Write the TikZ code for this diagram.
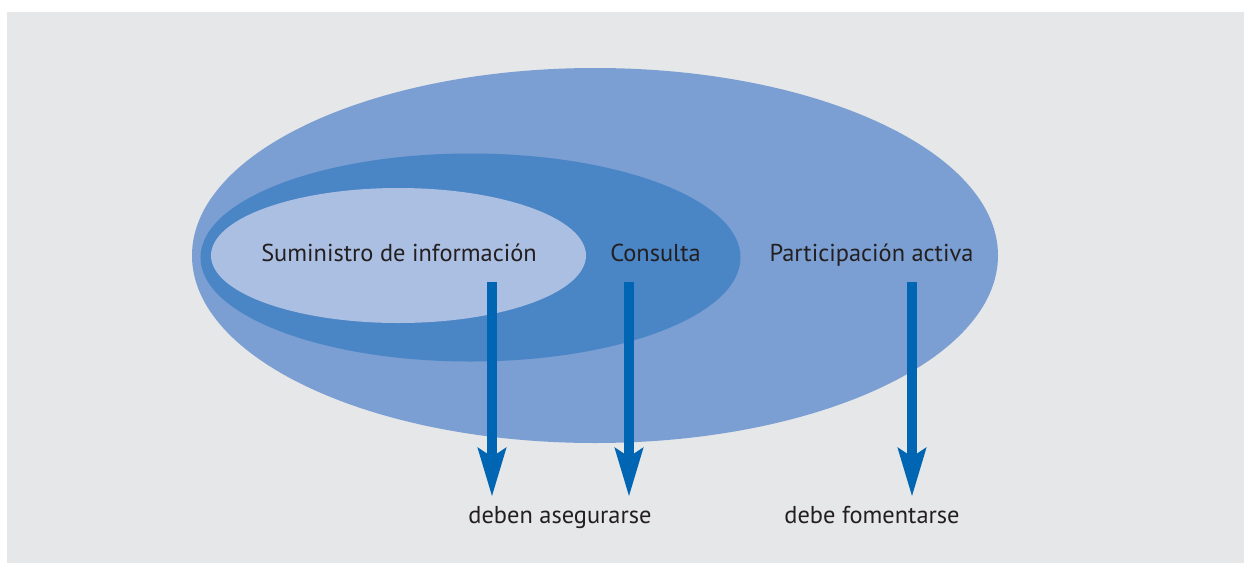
\documentclass[tikz,border=0pt]{standalone}
\usepackage{fontspec}
\setmainfont{PT Sans}
\usetikzlibrary{arrows.meta}
\definecolor{bggray}{HTML}{E6E7E8}
\definecolor{outerblue}{HTML}{7B9FD3}
\definecolor{midblue}{HTML}{4A85C5}
\definecolor{innerblue}{HTML}{ABBFE2}
\definecolor{arrowblue}{HTML}{0066B3}
\definecolor{txt}{HTML}{231F20}
\tikzset{
  lbl/.style={text=txt, font=\fontsize{12.2pt}{14pt}\selectfont, inner sep=0pt, anchor=base},
  bigarrow/.style={draw=arrowblue, line width=5pt, line cap=butt,
    -{Stealth[length=24pt, width=13.5pt, inset=4pt]}},
}
\begin{document}
\begin{tikzpicture}[x=0.5pt,y=-0.5pt]
\useasboundingbox (0,0) rectangle (1244,563);
\fill[white] (0,0) rectangle (1244,563);
\fill[bggray] (7,12) rectangle (1244,563);
\fill[outerblue] (595,255.5) ellipse [x radius=201.5pt, y radius=93.75pt];
\fill[midblue] (470.5,257.5) ellipse [x radius=135pt, y radius=52pt];
\fill[innerblue] (398.5,255.5) ellipse [x radius=93.75pt, y radius=33.75pt];
\node[lbl] (sum) at (399,261) {Suministro de información};
\node[lbl] (con) at (655.5,261) {Consulta};
\node[lbl] (par) at (871.5,261) {Participación activa};
\node[lbl] (deben) at (560,523) {deben asegurarse};
\node[lbl] (debe) at (872,523) {debe fomentarse};
\coordinate (s1) at (492,282);
\coordinate (s2) at (629,282);
\coordinate (s3) at (912,282);
\coordinate (e1) at (492,497);
\coordinate (e2) at (629,497);
\coordinate (e3) at (912,497);
\draw[bigarrow] (s1) -- (e1);
\draw[bigarrow] (s2) -- (e2);
\draw[bigarrow] (s3) -- (e3);
\end{tikzpicture}
\end{document}
